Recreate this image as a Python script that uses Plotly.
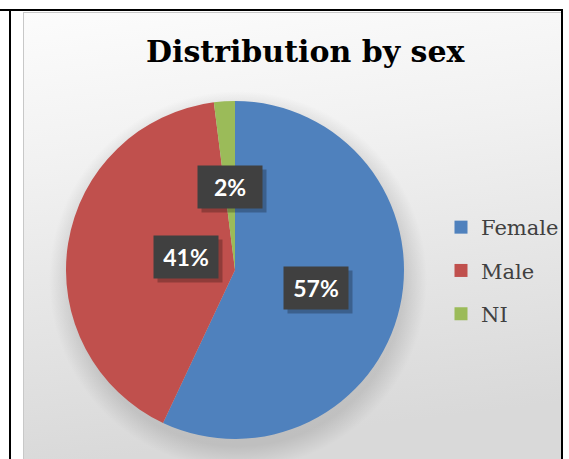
import math
import base64
import plotly.graph_objects as go

# ---- data ----
categories = ["Female", "Male", "NI"]
values = [57, 41, 2]
colors = ["#4F81BD", "#C0504D", "#9BBB59"]
title_text = "Distribution by sex"

W, H = 569, 459
CX, CY, R = 235, 270, 167  # pie centre / radius in pixels (layout)

def px2paper(x, y):
    return x / W, 1 - y / H

# background gradient (chart area)
svg = f'''<svg xmlns="http://www.w3.org/2000/svg" width="{W}" height="{H}" viewBox="0 0 {W} {H}">
<defs>
<linearGradient id="g" x1="0" y1="0" x2="0.15" y2="1">
<stop offset="0" stop-color="#fcfcfc"/>
<stop offset="0.35" stop-color="#f1f1f1"/>
<stop offset="1" stop-color="#d9d9d9"/>
</linearGradient>
<radialGradient id="s" cx="{CX+3}" cy="{CY+10}" r="{R+22}" gradientUnits="userSpaceOnUse">
<stop offset="0.88" stop-color="#000" stop-opacity="0.12"/>
<stop offset="1" stop-color="#000" stop-opacity="0"/>
</radialGradient>
</defs>
<rect x="0" y="0" width="{W}" height="{H}" fill="#ffffff"/>
<rect x="23" y="12" width="{561-23}" height="{H-12}" fill="url(#g)"/>
<rect x="23" y="12" width="{561-23}" height="{H-12}" fill="url(#s)"/>
</svg>'''
bg_src = "data:image/svg+xml;base64," + base64.b64encode(svg.encode()).decode()

fig = go.Figure()

RD = R + 2  # plotly insets the pie slightly inside its domain
dx0, dy0 = px2paper(CX - RD, CY + RD)
dx1, dy1 = px2paper(CX + RD, CY - RD)
fig.add_trace(go.Pie(
    labels=categories, values=values, sort=False, direction="clockwise",
    rotation=0, marker=dict(colors=colors, line=dict(width=0)),
    textinfo="none", showlegend=False, hoverinfo="label+percent",
    domain=dict(x=[dx0, dx1], y=[dy0, dy1]),
))

# legend entries
for i, (c, col) in enumerate(zip(categories, colors)):
    fig.add_trace(go.Scatter(
        x=[None], y=[None], mode="markers", name=c, legendgroup=c,
        marker=dict(symbol="square", size=13, color=col),
        showlegend=True,
    ))

# data labels
total = sum(values)
cum = 0
annotations = []
for v in values:
    th = 2 * math.pi * (cum + v / 2) / total
    cum += v
    x_px = CX + 0.5 * R * math.sin(th)
    y_px = CY - 0.5 * R * math.cos(th)
    ax, ay = px2paper(x_px, y_px)
    txt = f"{v/total:.0%}"
    # shadow box
    annotations.append(dict(
        x=ax, y=ay, xref="paper", yref="paper", text="&nbsp;", showarrow=False,
        xshift=4, yshift=-4, bgcolor="rgba(0,0,0,0.25)",
        font=dict(family="Lato", size=22, color="rgba(0,0,0,0)"),
        width=46, height=24, borderpad=9,
    ))
    annotations.append(dict(
        x=ax, y=ay, xref="paper", yref="paper",
        text=f"<b>{txt}</b>", showarrow=False, bgcolor="#404040",
        font=dict(family="Lato", size=23, color="white"),
        width=46, height=24, borderpad=9,
    ))

tx, ty = px2paper(305, 51)
annotations.append(dict(
    x=tx, y=ty, xref="paper", yref="paper", text="<b>" + title_text + "</b>",
    showarrow=False, font=dict(family="DejaVu Serif", size=30, color="#000000"),
    xanchor="center", yanchor="middle",
))

shapes = [
    # outer black frame lines
    dict(type="line", xref="paper", yref="paper", x0=0, x1=563 / W, y0=1 - 10 / H, y1=1 - 10 / H,
         line=dict(color="black", width=2)),
    dict(type="line", xref="paper", yref="paper", x0=10 / W, x1=10 / W, y0=0, y1=1 - 10 / H,
         line=dict(color="black", width=2)),
    dict(type="line", xref="paper", yref="paper", x0=562 / W, x1=562 / W, y0=0, y1=1 - 10 / H,
         line=dict(color="black", width=2)),
    # chart area grey border
    dict(type="line", xref="paper", yref="paper", x0=23.5 / W, x1=23.5 / W, y0=0, y1=1 - 12 / H,
         line=dict(color="#c8c8c8", width=1)),
    dict(type="line", xref="paper", yref="paper", x0=23 / W, x1=561 / W, y0=1 - 12.5 / H, y1=1 - 12.5 / H,
         line=dict(color="#c8c8c8", width=1)),
]

lx, ly = px2paper(441, 207)
fig.update_layout(
    width=W, height=H, autosize=False,
    margin=dict(l=0, r=0, t=0, b=0),
    paper_bgcolor="white", plot_bgcolor="rgba(0,0,0,0)",
    images=[dict(source=bg_src, xref="paper", yref="paper", x=0, y=1,
                 sizex=1, sizey=1, sizing="stretch", layer="below")],
    xaxis=dict(visible=False, range=[0, 1]), yaxis=dict(visible=False, range=[0, 1]),
    legend=dict(x=lx, y=ly, xanchor="left", yanchor="top",
                font=dict(family="DejaVu Serif", size=21, color="#404040"),
                bgcolor="rgba(0,0,0,0)", tracegroupgap=13, itemwidth=30),
    annotations=annotations, shapes=shapes,
)

fig.write_html("out.html", config={"displayModeBar": False},
               post_script="document.body.style.margin='0';")
